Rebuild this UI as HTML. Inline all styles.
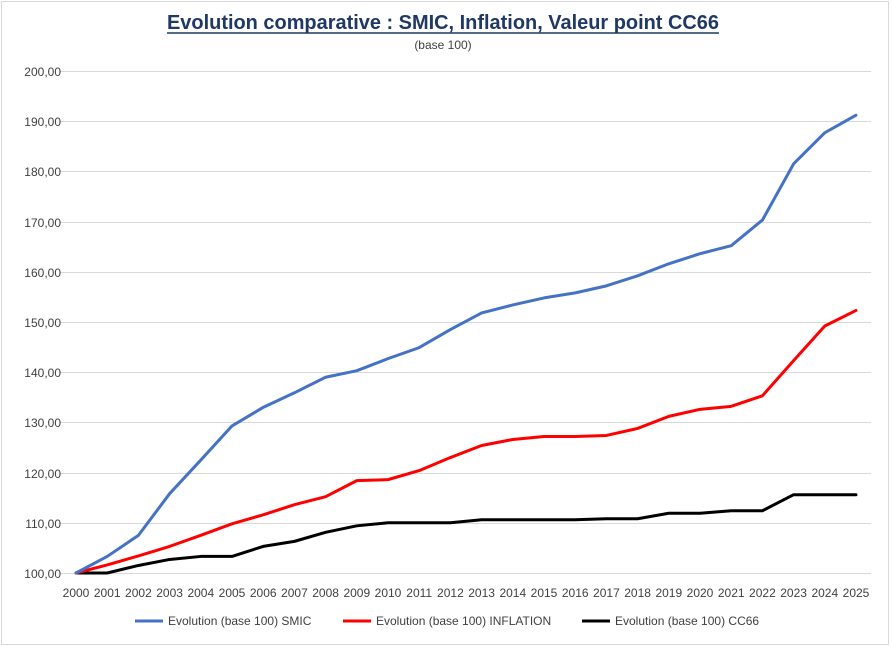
<!DOCTYPE html>
<html><head><meta charset="utf-8"><style>
body{margin:0;background:#fff;}
svg{display:block;font-family:"Liberation Sans",sans-serif;}
</style></head><body>
<svg width="892" height="648" viewBox="0 0 892 648" xmlns="http://www.w3.org/2000/svg">
<rect x="0" y="0" width="892" height="648" fill="#fff"/>
<rect x="1.5" y="1.5" width="887" height="643" fill="#fff" stroke="#d9d9d9"/>
<text x="443" y="29" text-anchor="middle" font-size="20" font-weight="bold" fill="#1f3864" textLength="552" lengthAdjust="spacingAndGlyphs">Evolution comparative : SMIC, Inflation, Valeur point CC66</text>
<line x1="167" y1="33" x2="719" y2="33" stroke="#1f3864" stroke-width="1.5"/>
<text x="443" y="49" text-anchor="middle" font-size="12" fill="#404040">(base 100)</text>
<g stroke="#d9d9d9" stroke-width="1">
<line x1="60" x2="871" y1="71.5" y2="71.5"/><line x1="60" x2="871" y1="121.5" y2="121.5"/>
<line x1="60" x2="871" y1="171.5" y2="171.5"/><line x1="60" x2="871" y1="222.5" y2="222.5"/>
<line x1="60" x2="871" y1="272.5" y2="272.5"/><line x1="60" x2="871" y1="322.5" y2="322.5"/>
<line x1="60" x2="871" y1="372.5" y2="372.5"/><line x1="60" x2="871" y1="422.5" y2="422.5"/>
<line x1="60" x2="871" y1="473.5" y2="473.5"/><line x1="60" x2="871" y1="523.5" y2="523.5"/>
<line x1="60" x2="871" y1="573.5" y2="573.5"/>
</g>
<g font-size="12" fill="#404040" text-anchor="end">
<text x="61" y="76">200,00</text><text x="61" y="126">190,00</text><text x="61" y="176">180,00</text>
<text x="61" y="227">170,00</text><text x="61" y="277">160,00</text><text x="61" y="327">150,00</text>
<text x="61" y="377">140,00</text><text x="61" y="427">130,00</text><text x="61" y="478">120,00</text>
<text x="61" y="528">110,00</text><text x="61" y="578">100,00</text>
</g>
<g font-size="12" fill="#404040" text-anchor="middle">
<text x="76" y="597">2000</text><text x="107.2" y="597">2001</text><text x="138.4" y="597">2002</text>
<text x="169.6" y="597">2003</text><text x="200.8" y="597">2004</text><text x="232" y="597">2005</text>
<text x="263.2" y="597">2006</text><text x="294.4" y="597">2007</text><text x="325.6" y="597">2008</text>
<text x="356.8" y="597">2009</text><text x="388" y="597">2010</text><text x="419.2" y="597">2011</text>
<text x="450.4" y="597">2012</text><text x="481.6" y="597">2013</text><text x="512.8" y="597">2014</text>
<text x="544" y="597">2015</text><text x="575.2" y="597">2016</text><text x="606.4" y="597">2017</text>
<text x="637.6" y="597">2018</text><text x="668.8" y="597">2019</text><text x="700" y="597">2020</text>
<text x="731.2" y="597">2021</text><text x="762.4" y="597">2022</text><text x="793.6" y="597">2023</text>
<text x="824.8" y="597">2024</text><text x="856" y="597">2025</text>
</g>
<g transform="matrix(31.2 0 0 -5.02 76 1075)" fill="none" stroke-width="3" stroke-linejoin="round" stroke-linecap="round">
<polyline vector-effect="non-scaling-stroke" stroke="#000" points="0,100 1,100 2,101.5 3,102.7 4,103.3 5,103.3 6,105.3 7,106.3 8,108.1 9,109.4 10,110 11,110 12,110 13,110.6 14,110.6 15,110.6 16,110.6 17,110.8 18,110.8 19,111.9 20,111.9 21,112.4 22,112.4 23,115.6 24,115.6 25,115.6"/>
<polyline vector-effect="non-scaling-stroke" stroke="#ff0000" points="0,100 1,101.6 2,103.4 3,105.3 4,107.5 5,109.8 6,111.6 7,113.6 8,115.2 9,118.4 10,118.6 11,120.4 12,123 13,125.4 14,126.6 15,127.2 16,127.2 17,127.4 18,128.8 19,131.2 20,132.6 21,133.2 22,135.3 23,142.3 24,149.2 25,152.3"/>
<polyline vector-effect="non-scaling-stroke" stroke="#4472c4" points="0,100 1,103.3 2,107.5 3,115.8 4,122.5 5,129.3 6,133 7,135.9 8,139 9,140.3 10,142.7 11,144.9 12,148.5 13,151.8 14,153.4 15,154.8 16,155.8 17,157.2 18,159.2 19,161.6 20,163.6 21,165.2 22,170.3 23,181.5 24,187.7 25,191.2"/>
</g>
<g font-size="12" fill="#404040">
<line x1="135" x2="163" y1="621" y2="621" stroke="#4472c4" stroke-width="3"/>
<text x="168" y="625">Evolution (base 100) SMIC</text>
<line x1="343" x2="371" y1="621" y2="621" stroke="#ff0000" stroke-width="3"/>
<text x="376" y="625">Evolution (base 100) INFLATION</text>
<line x1="582" x2="610" y1="621" y2="621" stroke="#000" stroke-width="3"/>
<text x="615" y="625">Evolution (base 100) CC66</text>
</g>
</svg>
</body></html>
